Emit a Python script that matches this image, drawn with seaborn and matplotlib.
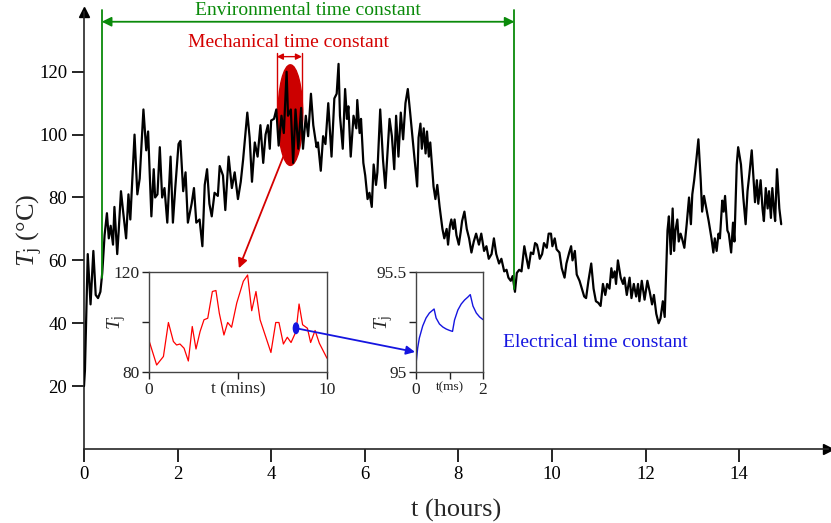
import matplotlib
matplotlib.use("Agg")
import numpy as np
import matplotlib.pyplot as plt
import seaborn as sns
from matplotlib.patches import Ellipse, ConnectionPatch

# main trace: junction temperature over a working day
hours = [0.0, 0.02, 0.08, 0.14, 0.2, 0.25, 0.3, 0.35, 0.39, 0.44, 0.49, 0.53, 0.57, 0.62, 0.65,
         0.71, 0.74, 0.79, 0.84, 0.9, 0.95, 0.99, 1.04, 1.08, 1.14, 1.19, 1.27, 1.33, 1.37, 1.44,
         1.49, 1.52, 1.57, 1.62, 1.67, 1.72, 1.78, 1.85, 1.9, 1.95, 2.02, 2.06, 2.12, 2.17, 2.22,
         2.3, 2.35, 2.4, 2.47, 2.53, 2.58, 2.63, 2.68, 2.73, 2.79, 2.86, 2.9, 2.97, 3.02, 3.09,
         3.16, 3.22, 3.29, 3.35, 3.4, 3.45, 3.49, 3.54, 3.59, 3.65, 3.71, 3.77, 3.83, 3.88, 3.93,
         3.97, 4.0, 4.06, 4.11, 4.16, 4.22, 4.27, 4.33, 4.36, 4.42, 4.47, 4.52, 4.58, 4.64, 4.68,
         4.74, 4.79, 4.85, 4.9, 4.97, 5.0, 5.06, 5.11, 5.16, 5.22, 5.29, 5.35, 5.4, 5.44, 5.47,
         5.53, 5.58, 5.62, 5.65, 5.7, 5.76, 5.82, 5.84, 5.89, 5.92, 5.97, 6.01, 6.06, 6.1, 6.15,
         6.19, 6.24, 6.27, 6.33, 6.39, 6.44, 6.49, 6.53, 6.58, 6.63, 6.67, 6.72, 6.77, 6.82, 6.87,
         6.92, 6.97, 7.03, 7.07, 7.12, 7.15, 7.19, 7.22, 7.26, 7.3, 7.33, 7.37, 7.4, 7.47, 7.51,
         7.55, 7.6, 7.66, 7.7, 7.75, 7.78, 7.82, 7.85, 7.89, 7.92, 7.96, 8.01, 8.05, 8.08, 8.13,
         8.18, 8.23, 8.28, 8.33, 8.38, 8.44, 8.49, 8.55, 8.6, 8.65, 8.71, 8.76, 8.81, 8.87, 8.92,
         8.98, 9.03, 9.07, 9.12, 9.16, 9.21, 9.25, 9.3, 9.35, 9.41, 9.46, 9.5, 9.55, 9.6, 9.64,
         9.68, 9.71, 9.74, 9.79, 9.83, 9.89, 9.93, 9.98, 10.01, 10.06, 10.1, 10.16, 10.21, 10.27,
         10.31, 10.37, 10.41, 10.44, 10.49, 10.53, 10.59, 10.64, 10.69, 10.73, 10.78, 10.84,
         10.89, 10.94, 10.99, 11.04, 11.09, 11.14, 11.18, 11.23, 11.27, 11.3, 11.34, 11.37,
         11.41, 11.47, 11.52, 11.55, 11.6, 11.66, 11.7, 11.75, 11.8, 11.84, 11.87, 11.92, 11.98,
         12.04, 12.09, 12.14, 12.18, 12.23, 12.28, 12.32, 12.37, 12.41, 12.47, 12.5, 12.54,
         12.58, 12.61, 12.64, 12.68, 12.71, 12.75, 12.78, 12.83, 12.88, 12.93, 12.97, 13.0,
         13.04, 13.09, 13.13, 13.18, 13.21, 13.25, 13.3, 13.35, 13.41, 13.45, 13.48, 13.52,
         13.56, 13.59, 13.64, 13.67, 13.7, 13.75, 13.78, 13.83, 13.87, 13.9, 13.95, 13.98,
         14.04, 14.09, 14.14, 14.18, 14.22, 14.27, 14.31, 14.34, 14.38, 14.41, 14.46, 14.5,
         14.53, 14.57, 14.61, 14.64, 14.68, 14.71, 14.75, 14.77, 14.81, 14.86, 14.9]
temp_c = [20, 25, 62, 46, 63, 49, 48, 50, 56, 68, 75, 67, 71, 65, 77,
          62, 69, 82, 75, 67, 81, 73, 88, 100, 81, 86, 108, 95, 101, 74,
          89, 80, 81, 96, 80, 83, 72, 93, 72, 83, 97, 98, 82, 88, 72,
          78, 83, 72, 73, 64.5, 84, 89, 78, 74, 81.5, 80.5, 90, 87, 76, 93,
          83, 88, 79.5, 85, 92, 100.5, 107, 99, 85, 97.5, 93, 103, 91, 100, 103,
          95.5, 104.5, 105, 108, 96.5, 106, 100.5, 120, 106, 108, 91, 108, 95.5, 108.5, 95.5,
          106, 99.5, 113, 103, 96, 97.5, 88.5, 99.5, 97, 110, 93, 111.5, 113, 122.5, 106,
          95.5, 114.5, 105, 109, 93, 106, 102, 111, 100.5, 105, 91, 87, 79.5, 81.5, 77,
          90.5, 84, 88, 108, 92, 83, 95.5, 105, 99.5, 89, 106, 93, 107, 98.5, 110,
          114.5, 107, 97.5, 91, 83.5, 99, 103.5, 95.5, 102, 94, 101, 93, 97.5, 83.5, 79.5,
          84, 77, 70, 67, 70, 65, 71, 73, 70, 73, 68, 65, 69, 72.5, 75.5,
          70, 67, 62.5, 66, 68.5, 65, 68.5, 63, 64.5, 60.5, 62, 67, 62, 59, 60.5,
          56.5, 57, 54.5, 53.5, 55, 50, 56, 57, 56.5, 64.5, 60.5, 57.5, 62.5, 62, 65.5,
          65, 63, 60.5, 62, 65.5, 64, 68.5, 68.5, 64.5, 67, 63.5, 62.5, 57.5, 54.5,
          59, 62.5, 64.5, 60, 63, 55.5, 53.5, 51, 48.5, 48, 53.5, 59,
          51, 47, 46.5, 45.5, 52.5, 49, 52.5, 51, 57.5, 54.5, 56.5, 52.5,
          60, 54.5, 52.5, 54.5, 49, 54.5, 48, 52.5, 48.5, 52.5, 47, 53.5, 47.5,
          53.5, 50, 46, 49, 43, 40, 41.5, 47, 42, 69.5, 74, 62,
          76.5, 63, 69.5, 73, 66, 68.5, 67, 64, 71.5, 80, 71.5, 81,
          85.5, 92.5, 98.5, 85.5, 75.5, 80.5, 76.5, 72.5, 67, 62.5, 67, 63,
          68.5, 67, 79, 75.5, 80.5, 69.5, 68.5, 62.5, 72, 66, 90.5, 96,
          90.5, 80, 71.5, 82, 87.5, 95, 85.5, 78.5, 85.5, 78, 85.5, 76.5,
          72.5, 83, 76.5, 82, 73.5, 83, 75.5, 72.5, 89, 76.5, 71.5]

# zoomed window: ten minutes
mins = [0.0, 0.43, 0.81, 1.09, 1.37, 1.55, 1.74, 1.97, 2.21, 2.43, 2.64, 2.87, 3.09, 3.3,
        3.56, 3.76, 3.95, 4.21, 4.42, 4.64, 4.93, 5.3, 5.54, 5.77, 6.01, 6.24, 6.85, 7.12,
        7.3, 7.55, 7.77, 7.98, 8.26, 8.43, 8.63, 8.9, 9.08, 9.33, 9.57, 10.0]
temp_mins = [92.6, 82.8, 86.2, 99.8, 92.2, 90.8, 91.2, 89.5, 84.4, 98.2, 89.2, 96.2, 100.9, 101.5,
             112.2, 112.6, 103.5, 94.8, 99.8, 97.9, 107.6, 116.3, 118.8, 104.5, 112.2, 100.9, 87.8, 99.8,
             99.8, 91.2, 93.9, 91.8, 96.2, 107.2, 98.9, 97.5, 91.8, 96.6, 91.5, 85.5]

# zoomed window: two milliseconds
ms = [0.0, 0.05, 0.1, 0.2, 0.3, 0.4, 0.54, 0.6, 0.7, 0.8, 0.9, 1.0, 1.09,
      1.15, 1.25, 1.35, 1.45, 1.55, 1.62, 1.7, 1.8, 1.9, 2.0]
temp_ms = [95.04, 95.12, 95.17, 95.23, 95.27, 95.295, 95.315, 95.27, 95.24, 95.225, 95.215, 95.208, 95.203,
           95.26, 95.31, 95.34, 95.36, 95.375, 95.387, 95.33, 95.295, 95.275, 95.262]

env_span = (0.38, 9.2)
mech_span = (4.12, 4.66)
mins_pick = (8.26, 97.5)

GREEN = "#0a8a0a"
RED = "#d40000"
BLUE = "#1515e0"

sns.set_style("ticks")
plt.rcParams["font.family"] = ["Liberation Serif", "DejaVu Serif"]
plt.rcParams["mathtext.fontset"] = "custom"
plt.rcParams["mathtext.rm"] = "Liberation Serif"
plt.rcParams["mathtext.it"] = "Liberation Serif:italic"

fig = plt.figure(figsize=(8.31, 5.23), dpi=100)
ax = fig.add_axes([84 / 831, 74 / 523, 744 / 831, 437 / 523])

sns.lineplot(x=hours, y=temp_c, color="black", lw=1.6, estimator=None, sort=False, ax=ax, zorder=3)
ax.set_xlim(0, 15.9)
ax.set_ylim(0, 139)
ax.set_xticks(range(0, 15, 2))
ax.set_yticks(range(20, 121, 20))
sns.despine(ax=ax)
for side in ["left", "bottom"]:
    ax.spines[side].set_linewidth(1.2)
ax.tick_params(direction="out", length=9, width=1.2, labelsize=13.5, pad=3, colors="black")
ax.plot(1, 0, ">k", transform=ax.transAxes, clip_on=False, ms=7)
ax.plot(0, 1, "^k", transform=ax.transAxes, clip_on=False, ms=7)
ax.set_xlabel("t (hours)", fontsize=19, labelpad=12)
ax.set_ylabel(r"$T_\mathrm{j}$ (°C)", fontsize=19)
ax.yaxis.set_label_coords(-0.052, 0.5)

# environmental time constant
for t in env_span:
    ax.plot([t, t], [np.interp(t, hours, temp_c), 139.5], color=GREEN, lw=1.3, clip_on=False, zorder=4)
ax.annotate("", xy=(env_span[0], 135.9), xytext=(env_span[1], 135.9),
            arrowprops=dict(arrowstyle="<|-|>", color=GREEN, lw=1.3, shrinkA=0, shrinkB=0,
                            mutation_scale=14), annotation_clip=False)
ax.text(4.79, 139.6, "Environmental time constant", color=GREEN, fontsize=14,
        ha="center", va="center")

# mechanical time constant
ax.add_patch(Ellipse((4.41, 106.2), 0.53, 32, color="#cc0000", zorder=2))
for t in mech_span:
    ax.plot([t, t], [107, 126], color=RED, lw=1.0, zorder=2)
ax.annotate("", xy=(mech_span[0], 124.8), xytext=(mech_span[1], 124.8),
            arrowprops=dict(arrowstyle="<|-|>", color=RED, lw=1.0, shrinkA=0, shrinkB=0,
                            mutation_scale=9))
ax.text(4.38, 129.2, "Mechanical time constant", color=RED, fontsize=14, ha="center", va="center")
ax.annotate("", xy=(3.31, 57.5), xytext=(4.3, 94.5),
            arrowprops=dict(arrowstyle="-|>", color=RED, lw=1.3, shrinkA=0, shrinkB=0,
                            mutation_scale=14))

ax.text(10.92, 34, "Electrical time constant", color=BLUE, fontsize=14, ha="center", va="center")


def style_inset(a, label_x):
    for s in a.spines.values():
        s.set_color("#444444")
        s.set_linewidth(1.0)
    a.tick_params(direction="out", length=5, width=1.0, labelsize=12.5, pad=2, colors="#222222")
    a.tick_params(top=False, right=False)
    a.set_ylabel(r"$T_\mathrm{j}$", fontsize=14)
    a.yaxis.set_label_coords(label_x, 0.5)
    a.set_xlabel("")


# minutes inset
ins1 = fig.add_axes([149 / 831, 151 / 523, 178 / 831, 100 / 523])
sns.lineplot(x=mins, y=temp_mins, color="red", lw=0.9, estimator=None, sort=False, ax=ins1)
ins1.set_xlim(0, 10)
ins1.set_ylim(80, 120)
ins1.set_xticks([0, 5, 10], ["0", "t (mins)", "10"])
ins1.set_yticks([80, 100, 120], ["80", "", "120"])
style_inset(ins1, -0.12)
ins1.add_patch(Ellipse(mins_pick, 0.3, 4.2, color=BLUE, zorder=4))

# milliseconds inset
ins2 = fig.add_axes([416 / 831, 151 / 523, 67 / 831, 100 / 523])
sns.lineplot(x=ms, y=temp_ms, color=BLUE, lw=1.0, estimator=None, sort=False, ax=ins2)
ins2.set_xlim(0, 2)
ins2.set_ylim(95, 95.5)
ins2.set_xticks([0, 1, 2], ["0", "t(ms)", "2"])
ins2.set_yticks([95, 95.25, 95.5], ["95", "", "95.5"])
style_inset(ins2, -0.32)
ins2.get_xticklabels()[1].set_fontsize(9.5)

con = ConnectionPatch(xyA=mins_pick, coordsA=ins1.transData, xyB=(-0.03, 95.1), coordsB=ins2.transData,
                      arrowstyle="-|>", color=BLUE, lw=1.3, mutation_scale=13, shrinkA=0, shrinkB=0)
fig.add_artist(con)

fig.savefig("out.png", dpi=100)
